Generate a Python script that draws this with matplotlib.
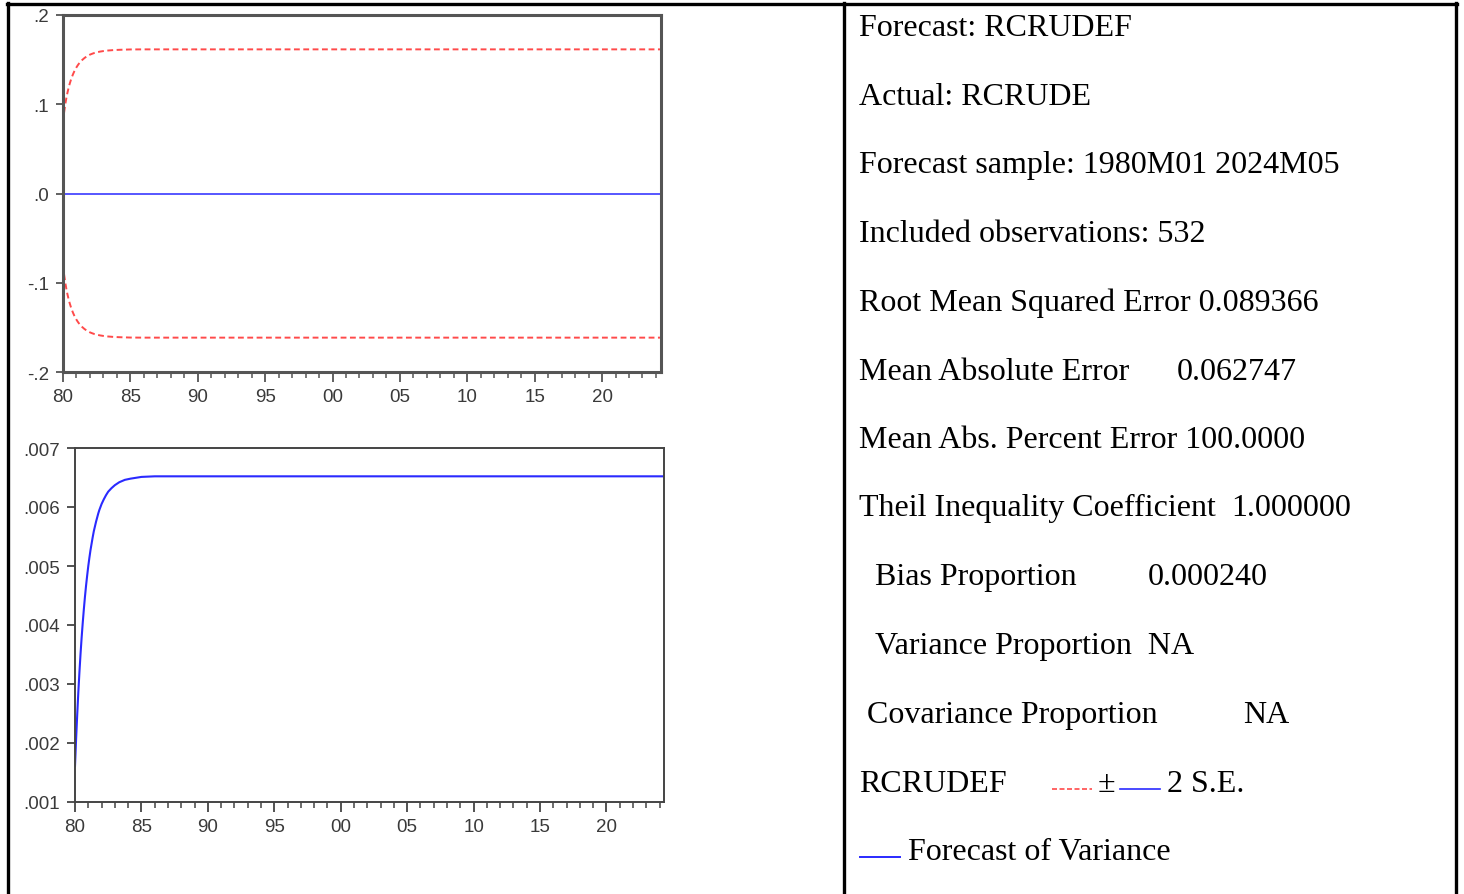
import matplotlib
matplotlib.use("Agg")
import matplotlib.pyplot as plt
from matplotlib.lines import Line2D

# ---------------- data ----------------
# month index (0 = 1980M01) at which values are read off the picture
months = [0, 1, 2, 3, 4, 5, 6, 7, 8, 9, 10, 11, 12, 13, 14, 15, 16, 17, 18,
          19, 20, 21, 22, 23, 24, 26, 28, 30, 33, 36, 40, 45, 50, 60, 72, 532]
# forecast of variance
variance = [0.00161, 0.00207, 0.00248, 0.00286, 0.00320, 0.00351, 0.00379,
            0.00404, 0.00427, 0.00448, 0.00467, 0.00484, 0.00500, 0.00514,
            0.00527, 0.00538, 0.00549, 0.00559, 0.00567, 0.00575, 0.00582,
            0.00589, 0.00595, 0.00600, 0.00605, 0.00613, 0.00620, 0.00626,
            0.00632, 0.00637, 0.00642, 0.00646, 0.00648, 0.00651, 0.00652,
            0.00652]
# upper 2 S.E. band (lower band is its negative)
se_upper = [0.0802, 0.0910, 0.0996, 0.1070, 0.1131, 0.1185, 0.1231, 0.1271,
            0.1307, 0.1339, 0.1367, 0.1391, 0.1414, 0.1434, 0.1452, 0.1467,
            0.1482, 0.1495, 0.1506, 0.1517, 0.1526, 0.1535, 0.1543, 0.1549,
            0.1556, 0.1566, 0.1575, 0.1582, 0.1590, 0.1596, 0.1602, 0.1607,
            0.1610, 0.1614, 0.1615, 0.1615]
se_lower = [-v for v in se_upper]
forecast = [0.0] * len(months)

x_tick_months = [0, 60, 120, 180, 240, 300, 360, 420, 480]
x_tick_labels = ["80", "85", "90", "95", "00", "05", "10", "15", "20"]
x_minor_months = list(range(0, 533, 12))

top_yticks = [-0.2, -0.1, 0.0, 0.1, 0.2]
top_ylabels = ["-.2", "-.1", ".0", ".1", ".2"]
bot_yticks = [0.001, 0.002, 0.003, 0.004, 0.005, 0.006, 0.007]
bot_ylabels = [".001", ".002", ".003", ".004", ".005", ".006", ".007"]

stats_lines = [
    "Forecast: RCRUDEF",
    "Actual: RCRUDE",
    "Forecast sample: 1980M01 2024M05",
    "Included observations: 532",
    "Root Mean Squared Error 0.089366",
    "Mean Absolute Error",
    "Mean Abs. Percent Error 100.0000",
    "Theil Inequality Coefficient",
    "Bias Proportion",
    "Variance Proportion  NA",
    "Covariance Proportion",
    "RCRUDEF",
]
stats_values = {5: "0.062747", 7: "1.000000", 8: "0.000240", 10: "NA"}

# ---------------- figure ----------------
W, H = 1464, 895
fig = plt.figure(figsize=(W / 100, H / 100), dpi=100)
fig.patch.set_facecolor("white")


def fx(x):
    return x / W


def fy(y):
    return 1 - y / H


tick_font = {"family": ["Liberation Sans", "DejaVu Sans"], "size": 13.5}
tick_color = "#3a3a3a"


def style_axis(ax, spine_color, spine_w, ylen):
    for s in ax.spines.values():
        s.set_color(spine_color)
        s.set_linewidth(spine_w)
    ax.set_xlim(0, 532.5)
    ax.set_xticks(x_tick_months)
    ax.set_xticklabels(x_tick_labels, fontdict=tick_font, color=tick_color)
    ax.set_xticks(x_minor_months, minor=True)
    ax.tick_params(axis="x", which="major", direction="out", length=7,
                   width=1.3, color=spine_color, pad=4.5)
    ax.tick_params(axis="x", which="minor", direction="out", length=4,
                   width=1.1, color=spine_color)
    ax.tick_params(axis="y", which="major", direction="out", length=ylen,
                   width=1.3, color=spine_color, pad=5)
    ax.tick_params(axis="y", which="minor", length=0)
    ax.set_facecolor("white")


# top chart
ax1 = fig.add_axes([fx(63), fy(373), fx(661) - fx(63), fy(16) - fy(373)])
ax1.plot(months, forecast, color="#3a3aff", lw=1.2)
ax1.plot(months, se_upper, color="#ff4a4a", lw=1.4, ls=(0, (3, 1.8)))
ax1.plot(months, se_lower, color="#ff4a4a", lw=1.4, ls=(0, (3, 1.8)))
ax1.set_ylim(-0.2, 0.2)
ax1.set_yticks(top_yticks)
ax1.set_yticklabels(top_ylabels, fontdict=tick_font, color=tick_color)
style_axis(ax1, "#555555", 2.2, 5)

# bottom chart
ax2 = fig.add_axes([fx(75), fy(803), fx(664) - fx(75), fy(449) - fy(803)])
ax2.plot(months, variance, color="#2a2aff", lw=1.5)
ax2.set_ylim(0.001, 0.007)
ax2.set_yticks(bot_yticks)
ax2.set_yticklabels(bot_ylabels, fontdict=tick_font, color=tick_color)
style_axis(ax2, "#444444", 1.4, 6)
ax2.set_xlim(0, 532)

# table borders
bw = 2.4
fig.add_artist(Line2D([fx(7), fx(1457)], [fy(5), fy(5)], color="black", lw=bw))
fig.add_artist(Line2D([fx(8), fx(8)], [fy(4), fy(900)], color="black", lw=bw))
fig.add_artist(Line2D([fx(844), fx(844)], [fy(4), fy(900)], color="black", lw=bw))
fig.add_artist(Line2D([fx(1456), fx(1456)], [fy(4), fy(900)], color="black", lw=bw))

# right panel text
serif = {"family": ["Liberation Serif", "DejaVu Serif"], "size": 23}
baselines = [36.5, 105, 173.5, 242, 310.5, 379.5, 448, 516.5, 585.5, 654, 723, 792]
lefts = [859, 859, 859, 859, 859, 859, 859, 859, 875, 875, 867, 859]
value_x = {5: 1177, 7: 1231, 8: 1148, 10: 1243}
for i, line in enumerate(stats_lines):
    fig.text(fx(lefts[i]), fy(baselines[i]), line, fontdict=serif,
             va="baseline", ha="left", color="black")
    if i in stats_values:
        fig.text(fx(value_x[i]), fy(baselines[i]), stats_values[i],
                 fontdict=serif, va="baseline", ha="left", color="black")

# legend row
fig.add_artist(Line2D([fx(1052), fx(1092)], [fy(790), fy(790)],
                      color="#ff4a4a", lw=1.2, ls=(0, (3, 1.5))))
fig.text(fx(1098), fy(792), "\u00b1", fontdict=serif, va="baseline", ha="left")
fig.add_artist(Line2D([fx(1120), fx(1160)], [fy(790), fy(790)],
                      color="#2a2aff", lw=1.2))
fig.text(fx(1167), fy(792), "2 S.E.", fontdict=serif, va="baseline", ha="left")

fig.add_artist(Line2D([fx(860), fx(900)], [fy(858), fy(858)],
                      color="#2a2aff", lw=1.4))
fig.text(fx(908), fy(860), "Forecast of Variance", fontdict=serif,
         va="baseline", ha="left")

fig.savefig("out.png", dpi=100, facecolor="white")
